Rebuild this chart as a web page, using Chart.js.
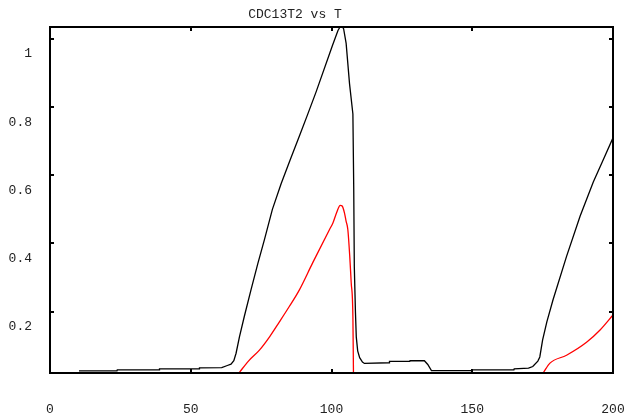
<!DOCTYPE html>
<html lang="en">
<head>
<meta charset="UTF-8">
<title>CDC13T2 vs T</title>
<script src="https://cdn.jsdelivr.net/npm/chart.js"></script>
<style>
    body { margin: 0; background: #fff; }
    #wrap { width: 628px; height: 419px; }
</style>
</head>
<body>
<div id="wrap"><canvas id="chart" width="628" height="419"></canvas></div>
<script>
// tick positions
const xTicks = [0, 50, 100, 150, 200];
const yTicks = [0.2, 0.4, 0.6, 0.8, 1];

// black curve (CDC13T2)
const blackT = [10.3, 23.8, 23.9, 38.8, 38.9, 53, 53.1, 61, 63, 64.3, 65.3, 66.1, 67.3, 69, 71.4, 73.8, 76.2, 79, 82.1, 85.3, 88.6, 91.5, 94.5, 100.4,
    102.3, 103.4, 104.3, 105.2, 106.4, 107.6, 107.9, 108.1, 108.5, 108.8, 109.3, 110, 111, 111.7, 120.5, 120.6, 127.8, 127.9, 133,
    134.2, 135.5, 149.8, 149.9, 164.8, 164.9, 170, 171.5, 173.3, 174, 175, 176.5, 178.7, 183.5, 188.3, 193, 196.5, 200];
const blackY = [0.026, 0.026, 0.029, 0.029, 0.032, 0.032, 0.035, 0.036, 0.042, 0.046, 0.056, 0.078, 0.126, 0.185, 0.264, 0.34, 0.412, 0.5, 0.575, 0.645, 0.715, 0.778, 0.844, 0.982,
    1.025, 1.04, 1.03, 0.987, 0.869, 0.78, 0.56, 0.333, 0.2, 0.126, 0.085, 0.065, 0.052, 0.048, 0.05, 0.054, 0.054, 0.056, 0.056,
    0.045, 0.027, 0.027, 0.029, 0.029, 0.032, 0.034, 0.039, 0.055, 0.067, 0.117, 0.17, 0.235, 0.362, 0.48, 0.58, 0.645, 0.71];

// red curve
const redT = [67.3, 70.5, 74.4, 78, 81.5, 85, 88.6, 93.3, 99.3, 100.5, 101.8, 103.1, 103.8, 104.6, 105.2, 105.8, 106.5, 107, 107.6, 107.8,
    140, 175.2, 177.6, 183.5, 190.6, 195.4, 200];
const redY = [0.022, 0.055, 0.087, 0.126, 0.17, 0.215, 0.264, 0.343, 0.441, 0.46, 0.49, 0.512, 0.51, 0.49, 0.465, 0.441, 0.36, 0.285, 0.185, 0.02,
    null, 0.02, 0.049, 0.072, 0.11, 0.146, 0.19];

const pts = (xs, ys) => xs.map((x, i) => ({ x: x, y: ys[i] }));

Chart.defaults.font.family = '"Liberation Mono", "DejaVu Sans Mono", monospace';
Chart.defaults.font.size = 13;
Chart.defaults.color = '#222';

// box round the plot with small inward ticks, plus the title
const framePlugin = {
    id: 'frame',
    afterDatasetsDraw(chart) {
        const ctx = chart.ctx;
        const a = chart.chartArea;
        const x = chart.scales.x, y = chart.scales.y;
        ctx.save();
        ctx.strokeStyle = '#000';
        ctx.lineWidth = 2;
        ctx.strokeRect(a.left, a.top, a.right - a.left, a.bottom - a.top);
        ctx.beginPath();
        xTicks.forEach(v => {
            if (v <= 0 || v >= 200) return;
            const px = Math.round(x.getPixelForValue(v));
            ctx.moveTo(px, a.bottom); ctx.lineTo(px, a.bottom - 4);
            ctx.moveTo(px, a.top); ctx.lineTo(px, a.top + 4);
        });
        yTicks.forEach(v => {
            const py = Math.round(y.getPixelForValue(v));
            ctx.moveTo(a.left, py); ctx.lineTo(a.left + 4, py);
            ctx.moveTo(a.right, py); ctx.lineTo(a.right - 4, py);
        });
        ctx.stroke();
        ctx.fillStyle = '#222';
        ctx.font = '13px "Liberation Mono", monospace';
        ctx.textAlign = 'center';
        ctx.textBaseline = 'middle';
        ctx.fillText('CDC13T2 vs T', 295, 15);
        ctx.restore();
    }
};

new Chart(document.getElementById('chart'), {
    type: 'line',
    data: {
        datasets: [{
            label: 'CDC13T2',
            data: pts(blackT, blackY),
            borderColor: '#000',
            borderWidth: 1.3,
            pointRadius: 0,
            tension: 0
        }, {
            label: 'red',
            data: pts(redT, redY),
            borderColor: '#ff0000',
            borderWidth: 1.3,
            pointRadius: 0,
            cubicInterpolationMode: 'monotone',
            spanGaps: false
        }]
    },
    options: {
        responsive: false,
        animation: false,
        devicePixelRatio: 1,
        layout: { padding: { top: 27, right: 15, left: 0, bottom: 0 } },
        plugins: { legend: { display: false }, tooltip: { enabled: false } },
        scales: {
            x: {
                type: 'linear',
                min: 0,
                max: 200,
                grid: { display: false },
                border: { display: false },
                afterBuildTicks: s => { s.ticks = xTicks.map(v => ({ value: v })); },
                afterFit: s => { s.height = 46; s.paddingLeft = 0; s.paddingRight = 0; },
                ticks: { padding: 21, maxRotation: 0 }
            },
            y: {
                min: 0.02,
                max: 1.035,
                grid: { display: false },
                border: { display: false },
                afterBuildTicks: s => { s.ticks = yTicks.map(v => ({ value: v })); },
                afterFit: s => { s.width = 50; s.paddingTop = 0; s.paddingBottom = 0; },
                ticks: { padding: 10, labelOffset: 15, callback: v => String(v) }
            }
        }
    },
    plugins: [framePlugin]
});
</script>
</body>
</html>
